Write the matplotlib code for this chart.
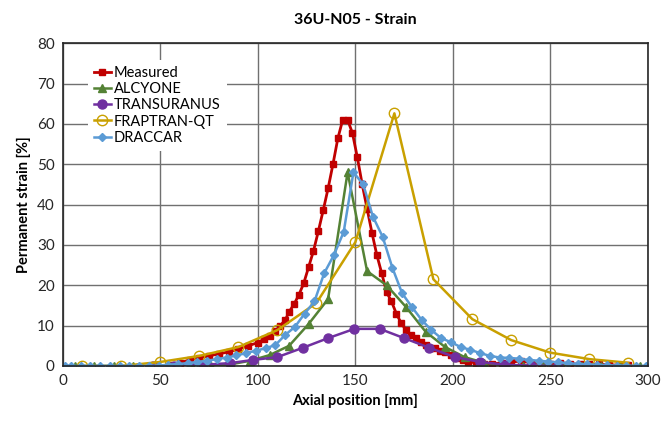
import matplotlib.pyplot as plt

plt.rcParams['font.family'] = ['Lato', 'DejaVu Sans']

# Measured
meas_x = [55, 60, 65, 70, 75, 80, 85, 90, 95, 100, 103, 106, 109, 111.5, 114, 116,
          118.5, 121, 123.5, 126, 128.5, 131, 133.5, 136, 138.5, 141, 143.5, 146,
          148.5, 151, 153.5, 156, 158.5, 161, 163.5, 166, 168.5, 171, 173.5, 176,
          178.5, 181, 183.5, 186, 188.5, 191, 193.5, 196, 199, 202, 205, 208, 212,
          216, 220, 225, 230, 235, 240, 245, 250, 255, 260, 265, 270, 275, 280, 285, 290]
meas_y = [0.3, 0.8, 1.5, 2.0, 2.5, 3.0, 3.5, 4.2, 5.0, 5.8, 6.6, 7.5, 8.7, 10.0, 11.4, 13.4,
          15.3, 17.6, 20.5, 24.5, 28.5, 33.4, 38.6, 44.0, 50.0, 56.4, 61.0, 61.0,
          57.7, 51.7, 45.0, 39.0, 33.0, 27.5, 23.0, 18.3, 16.0, 13.0, 10.6, 8.9,
          7.7, 6.9, 6.0, 5.2, 4.5, 4.5, 3.8, 3.5, 2.7, 2.0, 1.5, 1.0, 0.8,
          0.6, 0.5, 0.8, 1.0, 1.2, 0.8, 0.6, 0.5, 0.8, 0.6, 0.4, 0.5, 0.4, 0.3, 0.2, 0.2]

# ALCYONE
alc_x = [6, 16, 26, 36, 46, 56, 66, 76, 86, 96, 106, 116, 126, 136, 146, 156, 166,
         176, 186, 196, 206, 216, 226, 236, 246, 256, 266, 276, 286, 296]
alc_y = [0, 0, 0, 0, 0, 0, 0, 0.1, 0.4, 1.3, 2.7, 5.0, 10.4, 16.6, 48.0, 23.5, 20.0,
         14.6, 8.5, 4.7, 2.2, 0.8, 0.2, 0.1, 0, 0, 0, 0, 0, 0]

# TRANSURANUS
tu_x = [46, 57, 72, 85.5, 97.5, 110, 123, 136, 149.5, 162.5, 175, 188, 201, 214,
        227, 240, 254]
tu_y = [0, 0, 0.3, 0.7, 1.5, 2.2, 4.5, 6.9, 9.2, 9.2, 6.9, 4.5, 2.2, 1.0,
        0.3, 0.1, 0]

# FRAPTRAN-QT
fq_x = [10, 30, 50, 70, 90, 110, 130, 150, 170, 190, 210, 230, 250, 270, 290]
fq_y = [0, 0, 1.0, 2.5, 4.7, 8.9, 15.6, 30.7, 62.6, 21.5, 11.6, 6.4, 3.3, 1.7, 0.8]

# DRACCAR
dr_x = [1, 4, 9, 14, 19, 24, 29, 34, 39, 44, 49, 54, 59, 64, 69, 74, 79, 84, 89, 94,
        99, 104, 109, 114, 119, 124, 129, 134, 139, 144, 149, 154, 159, 164, 169,
        174, 179, 184, 189, 194, 199, 204, 209, 214, 219, 224, 229, 234, 239, 244,
        249, 254, 259, 264, 269, 274, 279, 284, 289, 294, 299]
dr_y = [0, 0, 0, 0, 0, 0, 0, 0, 0, 0, 0.1, 0.3, 0.5, 0.7, 1.0, 1.3, 1.7, 2.1, 2.6, 3.2,
        3.8, 4.4, 5.2, 7.7, 9.7, 13.0, 16.0, 23.0, 27.5, 33.2, 48.0, 45.0, 37.0, 32.0, 24.3,
        18.0, 14.6, 11.4, 8.9, 6.9, 5.9, 4.7, 4.0, 3.2, 2.5, 2.1, 2.0, 1.8, 1.5, 1.3,
        1.1, 0.9, 0.7, 0.5, 0.4, 0.3, 0.2, 0.1, 0.1, 0, 0]

fig = plt.figure(figsize=(6.61, 4.23), dpi=100)
ax = fig.add_axes([0.0953, 0.1348, 0.8847, 0.7632])

ax.plot(meas_x, meas_y, color='#C00000', marker='s', markersize=5, lw=2, label='Measured')
ax.plot(alc_x, alc_y, color='#548235', marker='^', markersize=6, lw=1.8, label='ALCYONE')
ax.plot(tu_x, tu_y, color='#7030A0', marker='o', markersize=6.5, lw=1.8, label='TRANSURANUS')
ax.plot(fq_x, fq_y, color='#C9A000', marker='o', markersize=7.5, mfc='none', lw=1.8,
        label='FRAPTRAN-QT')
ax.plot(dr_x, dr_y, color='#5B9BD5', marker='D', markersize=4.5, lw=1.8, label='DRACCAR')

ax.set_xlim(0, 300)
ax.set_ylim(0, 80)
ax.set_xticks([0, 50, 100, 150, 200, 250, 300])
ax.set_yticks([0, 10, 20, 30, 40, 50, 60, 70, 80])
ax.tick_params(length=0, labelsize=11, colors='#262626', pad=6)
ax.grid(True, color='#707070', lw=1)
ax.set_axisbelow(True)
for s in ax.spines.values():
    s.set_color('#262626')
    s.set_linewidth(1.2)

ax.set_xlabel('Axial position [mm]', fontsize=10.5, fontweight='bold', labelpad=4)
ax.set_ylabel('Permanent strain [%]', fontsize=10.5, fontweight='bold', labelpad=4)
ax.set_title('36U-N05 - Strain', fontsize=11.5, fontweight='bold', pad=14)

leg = ax.legend(loc='upper left', bbox_to_anchor=(0.03, 0.97), frameon=True,
                fancybox=False, edgecolor='none', facecolor='white', framealpha=1,
                fontsize=10.5, handlelength=1.2, handletextpad=0.2, labelspacing=0.15,
                borderpad=0.4)

fig.savefig('out.png', dpi=100)
